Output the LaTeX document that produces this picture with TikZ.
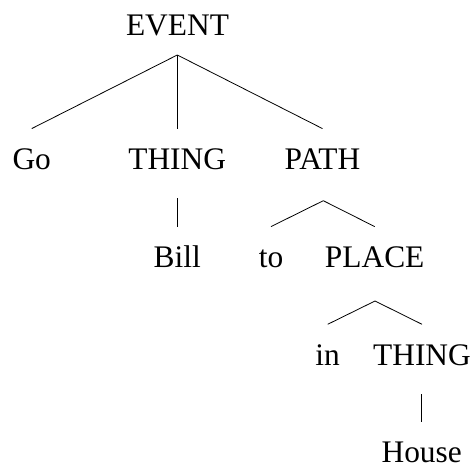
\documentclass[tikz,border=0pt]{standalone}
\usepackage{fontspec}
\setmainfont{Liberation Serif}
\begin{document}
\begin{tikzpicture}[x=1pt,y=1pt,
  lbl/.style={anchor=base, inner xsep=0pt, inner ysep=19.5pt, text height=21pt, text depth=0pt,
    font=\fontsize{31.4pt}{36pt}\selectfont},
  edge/.style={line width=0.8pt, black}]
\useasboundingbox (0,0) rectangle (474,-468);
% nodes
\node[lbl] (event) at (177.5,-36) {EVENT};
\node[lbl] (go) at (31.7,-169.3) {Go};
\node[lbl] (thing1) at (177.2,-169.3) {THING};
\node[lbl] (path) at (322.5,-169.3) {PATH};
\node[lbl] (bill) at (177.3,-267.3) {Bill};
\node[lbl] (to) at (271,-267.3) {to};
\node[lbl] (place) at (374.7,-267.3) {PLACE};
\node[lbl] (in) at (327.7,-365) {in};
\node[lbl] (thing2) at (422,-365) {THING};
\node[lbl] (house) at (421.7,-462.5) {House};
% branch points
\coordinate (eventj) at (177.3,-55);
\coordinate (thing1j) at (177.3,-198);
\coordinate (pathj) at (323.3,-200.7);
\coordinate (placej) at (375,-301);
\coordinate (thing2j) at (421.7,-394.3);
% edges
\draw[edge] (eventj) -- (go.north);
\draw[edge] (eventj) -- (eventj |- thing1.north);
\draw[edge] (eventj) -- (path.north);
\draw[edge] (thing1j) -- (thing1j |- bill.north);
\draw[edge] (pathj) -- (to.north);
\draw[edge] (pathj) -- (place.north);
\draw[edge] (placej) -- (in.north);
\draw[edge] (placej) -- (thing2.north);
\draw[edge] (thing2j) -- (thing2j |- house.north);
\end{tikzpicture}
\end{document}
